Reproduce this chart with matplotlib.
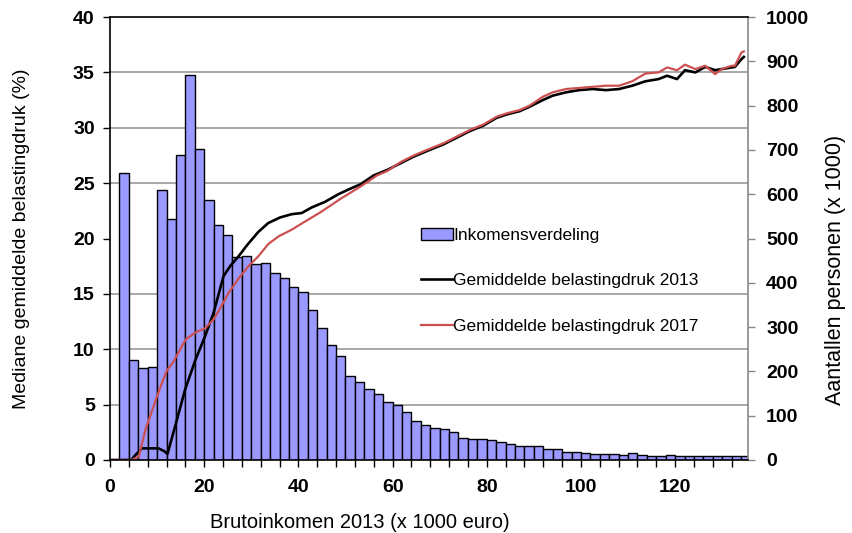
import matplotlib
matplotlib.use("Agg")
import matplotlib.pyplot as plt
from matplotlib.ticker import MultipleLocator

plt.rcParams['font.family'] = ['Liberation Sans', 'DejaVu Sans']

# inkomensverdeling: aantal personen (x 1000) per klasse van 2000 euro
bin_left = list(range(2, 136, 2))
personen = [648, 226, 208, 210, 610, 545, 688, 870, 703, 588,
            530, 508, 458, 460, 443, 445, 422, 411, 390, 379,
            338, 298, 260, 235, 190, 175, 160, 148, 130, 123,
            108, 88, 80, 73, 70, 64, 50, 48, 48, 46,
            40, 35, 32, 32, 32, 25, 25, 19, 18, 15,
            14, 14, 14, 12, 15, 12, 9, 9, 12, 8,
            9, 9, 9, 9, 9, 9, 9]

# gemiddelde belastingdruk (%)
x_2013 = [0, 4.5, 5.5, 6.8, 8.5, 10.3, 11.5, 12.2, 13.8, 15.9, 18.1, 20.2, 22.0,
          24.1, 25.5, 27.3, 29.1, 31.5, 33.6, 36.1, 38.6, 40.7, 42.8, 45.6, 48.5,
          50.5, 53.2, 56.0, 58.9, 61.7, 64.5, 67.3, 70.8, 73.6, 76.4, 79.3, 82.1,
          84.2, 87.0, 89.1, 91.9, 94.0, 96.8, 99.6, 102.5, 105.3, 108.1, 110.9,
          113.7, 116.5, 118.3, 120.4, 122.1, 124.3, 126.4, 128.5, 129.9, 132.0,
          132.7, 134.1, 134.6]
y_2013 = [0, 0, 0.5, 1.05, 1.05, 1.05, 0.8, 0.55, 3.0, 6.3, 9.0, 11.2, 13.3,
          16.6, 17.5, 18.4, 19.4, 20.6, 21.4, 21.9, 22.2, 22.3, 22.8, 23.3, 24.0,
          24.4, 24.9, 25.7, 26.2, 26.8, 27.4, 27.9, 28.5, 29.1, 29.7, 30.2, 30.9,
          31.2, 31.5, 31.9, 32.5, 32.9, 33.2, 33.4, 33.5, 33.4, 33.5, 33.8,
          34.2, 34.4, 34.7, 34.4, 35.2, 35.0, 35.5, 35.2, 35.3, 35.45,
          35.5, 36.2, 36.4]

x_2017 = [0, 4.5, 6.1, 7.5, 9.2, 10.7, 12.1, 13.5, 14.9, 16.1, 18.1, 20.2, 22.0,
          23.4, 25.2, 27.3, 29.4, 31.5, 33.6, 35.8, 38.6, 40.5, 44.8, 49.0, 53.2,
          56.7, 58.9, 61.7, 64.5, 67.3, 70.8, 73.6, 76.4, 79.3, 82.1, 84.2, 87.0,
          89.1, 91.9, 94.0, 96.8, 99.6, 102.5, 105.3, 108.1, 110.9, 113.7, 116.5,
          118.3, 120.4, 122.1, 124.3, 126.4, 128.5, 129.9, 132.0, 132.7, 134.1,
          134.6]
y_2017 = [0, 0, 0.3, 2.7, 4.8, 6.6, 8.1, 8.9, 10.0, 10.9, 11.5, 11.9, 12.7,
          13.7, 15.1, 16.4, 17.5, 18.4, 19.5, 20.2, 20.8, 21.3, 22.4, 23.6, 24.7,
          25.7, 26.1, 26.9, 27.5, 28.0, 28.6, 29.2, 29.8, 30.3, 31.0, 31.3, 31.6,
          32.0, 32.8, 33.2, 33.5, 33.6, 33.7, 33.8, 33.8, 34.2, 34.9, 35.0,
          35.45, 35.2, 35.7, 35.3, 35.6, 34.85, 35.3, 35.6, 35.6, 36.8,
          36.9]

fig = plt.figure(figsize=(8.53, 5.33), dpi=100)
ax = fig.add_axes([0.129, 0.137, 0.748, 0.831])
ax2 = ax.twinx()

# bars on the right axis, grid lines behind them
bars = ax2.bar(bin_left, personen, width=2, align='edge', color='#9999FF',
               edgecolor='black', linewidth=1, label='Inkomensverdeling', zorder=2)
ax2.set_ylim(0, 1000)
ax2.yaxis.set_major_locator(MultipleLocator(100))
ax2.yaxis.set_minor_locator(MultipleLocator(125))
ax2.grid(which='minor', axis='y', color='#999999', linewidth=1.2, zorder=0)
ax2.set_axisbelow(True)
ax2.tick_params(axis='y', which='minor', length=0)

# lines on the left axis, on top
ax.set_zorder(ax2.get_zorder() + 1)
ax.patch.set_visible(False)
l1, = ax.plot(x_2013, y_2013, color='black', linewidth=1.9,
              label='Gemiddelde belastingdruk 2013')
l2, = ax.plot(x_2017, y_2017, color='#CC5050', linewidth=1.6,
              label='Gemiddelde belastingdruk 2017')

ax.set_xlim(0, 135.5)
ax.set_ylim(0, 40)
ax.yaxis.set_major_locator(MultipleLocator(5))
ax.xaxis.set_major_locator(MultipleLocator(20))
ax.xaxis.set_minor_locator(MultipleLocator(4))

ax.tick_params(axis='both', which='both', direction='out', length=5, width=1,
               labelsize=14)
ax.tick_params(axis='x', which='major', pad=9)
ax.tick_params(axis='y', which='major', pad=6)
ax2.tick_params(axis='y', which='major', direction='out', length=5, width=1,
                labelsize=14, color='#888888', pad=8)
for t in ax.get_xticklabels() + ax.get_yticklabels() + ax2.get_yticklabels():
    t.set_fontweight('bold')

for s in ['left', 'top', 'bottom']:
    ax.spines[s].set_color('black')
    ax.spines[s].set_linewidth(1.2)
ax.spines['right'].set_visible(False)
ax2.spines['right'].set_color('#888888')
ax2.spines['right'].set_linewidth(1.2)
for s in ['left', 'top', 'bottom']:
    ax2.spines[s].set_visible(False)

ax.set_xlabel('Brutoinkomen 2013 (x 1000 euro)', fontsize=14.5)
ax.xaxis.set_label_coords(0.392, -0.12)
ax.set_ylabel('Mediane gemiddelde belastingdruk (%)', fontsize=14)
ax.yaxis.set_label_coords(-0.125, 0.5)
ax2.set_ylabel('Aantallen personen (x 1000)', fontsize=15.5)
ax2.yaxis.set_label_coords(1.12, 0.43)

leg = ax.legend([bars, l1, l2],
                ['Inkomensverdeling', 'Gemiddelde belastingdruk 2013',
                 'Gemiddelde belastingdruk 2017'],
                loc='upper left', bbox_to_anchor=(0.477, 0.54), frameon=False,
                fontsize=12.5, handlelength=1.8, handletextpad=0.05,
                labelspacing=1.75, borderaxespad=0)
leg.set_zorder(5)

fig.savefig('out.png', dpi=100)
